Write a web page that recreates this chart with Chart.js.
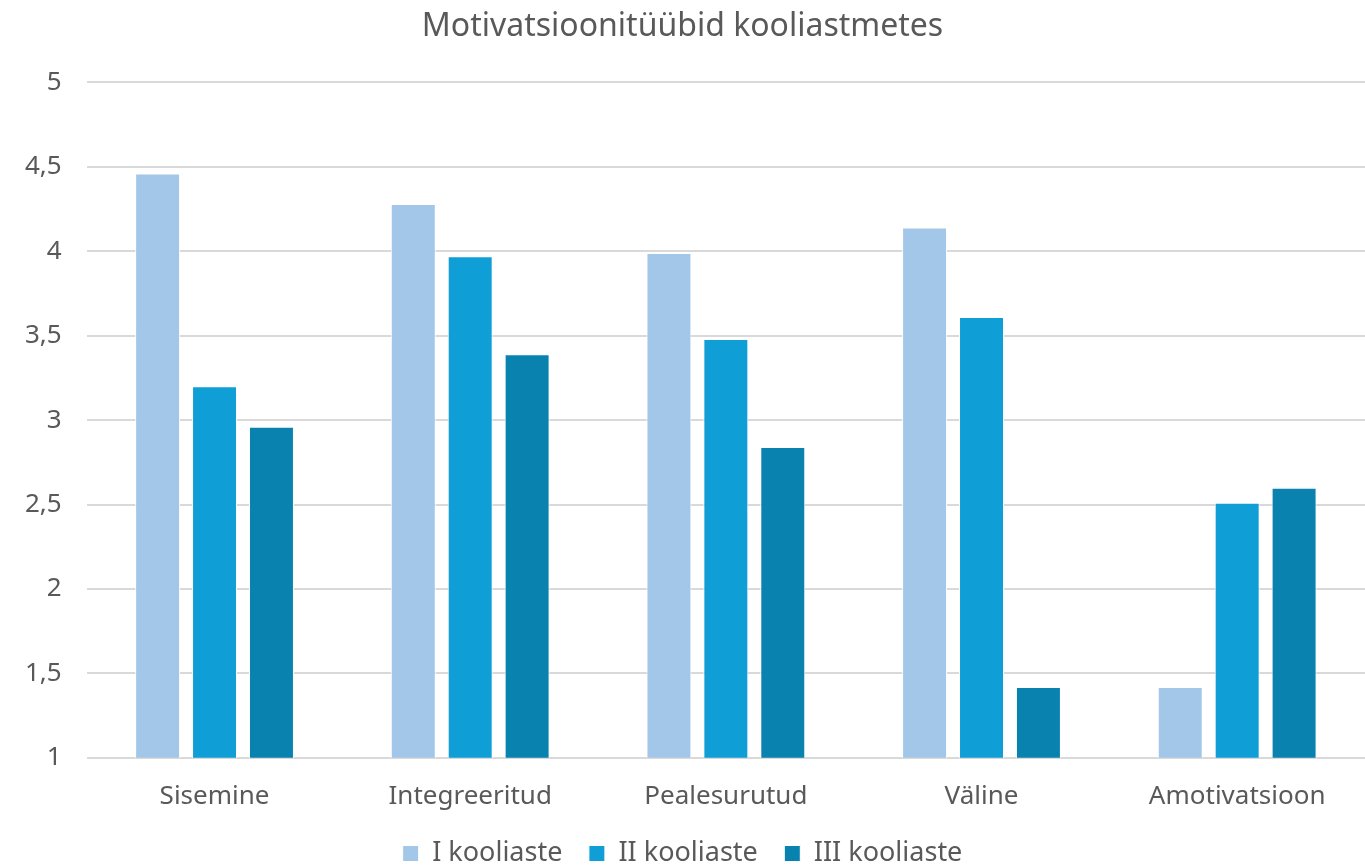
<!DOCTYPE html>
<html lang="et">
<head>
    <meta charset="UTF-8">
    <title>Motivatsioonitüübid kooliastmetes</title>
    <script src="https://cdn.jsdelivr.net/npm/chart.js"></script>
    <style>
        html, body { margin: 0; padding: 0; background: #fff; }
        #wrap { width: 1365px; height: 867px; }
    </style>
</head>
<body>
    <div id="wrap"><canvas id="chart"></canvas></div>
    <script>
        const categories = ['Sisemine', 'Integreeritud', 'Pealesurutud', 'Väline', 'Amotivatsioon'];
        const seriesNames = ['I kooliaste', 'II kooliaste', 'III kooliaste'];
        const kooliaste1 = [4.46, 4.28, 3.99, 4.14, 1.42];
        const kooliaste2 = [3.20, 3.97, 3.48, 3.61, 2.51];
        const kooliaste3 = [2.96, 3.39, 2.84, 1.42, 2.60];
        const colors = ['#A3C7E8', '#0F9ED5', '#0A82B0'];

        const font = "'Noto Sans', 'Open Sans', sans-serif";
        const textColor = '#595959';

        new Chart(document.getElementById('chart'), {
            type: 'bar',
            data: {
                labels: categories,
                datasets: [kooliaste1, kooliaste2, kooliaste3].map((vals, i) => ({
                    label: seriesNames[i],
                    data: vals,
                    backgroundColor: colors[i],
                    borderColor: '#ffffff',
                    borderWidth: 1,
                    barPercentage: 0.79,
                    categoryPercentage: 0.668
                }))
            },
            options: {
                responsive: true,
                maintainAspectRatio: false,
                animation: false,
                layout: { padding: { left: 0, right: 0, top: 0, bottom: -10 } },
                plugins: {
                    title: {
                        display: true,
                        text: 'Motivatsioonitüübid kooliastmetes',
                        color: textColor,
                        font: { family: font, size: 32, weight: 'normal' },
                        padding: { top: 8, bottom: 36 }
                    },
                    legend: {
                        position: 'bottom',
                        labels: {
                            color: textColor,
                            font: { family: font, size: 27 },
                            boxWidth: 16,
                            boxHeight: 16,
                            padding: 13,
                            // a bit of extra room between legend items
                            generateLabels: chart => Chart.defaults.plugins.legend.labels.generateLabels(chart)
                                .map((item, i, all) => ({ ...item, text: i < all.length - 1 ? item.text + '\u2002' : item.text }))
                        }
                    },
                    tooltip: { enabled: false }
                },
                scales: {
                    x: {
                        grid: { display: false },
                        border: { display: false },
                        ticks: {
                            color: textColor,
                            font: { family: font, size: 26 },
                            padding: 15
                        }
                    },
                    y: {
                        min: 1,
                        max: 5,
                        ticks: {
                            stepSize: 0.5,
                            color: textColor,
                            font: { family: font, size: 26 },
                            padding: 25,
                            callback: v => String(v).replace('.', ',')
                        },
                        grid: { color: '#D9D9D9', lineWidth: 2, drawTicks: false },
                        border: { display: false }
                    }
                }
            }
        });
    </script>
</body>
</html>
